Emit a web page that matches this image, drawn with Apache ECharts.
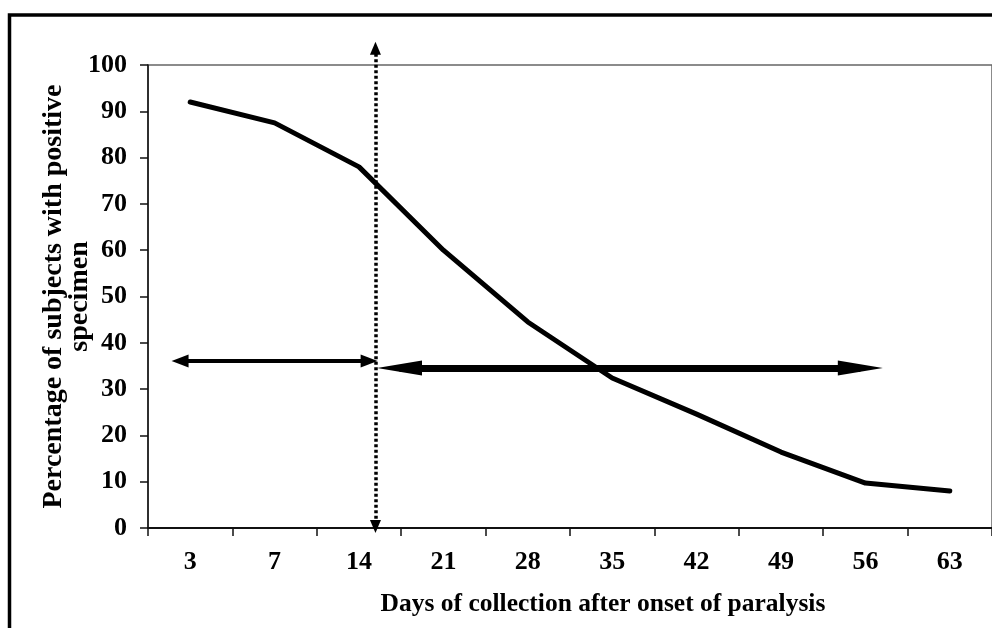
<!DOCTYPE html>
<html>
<head>
<meta charset="utf-8">
<script src="https://cdn.jsdelivr.net/npm/echarts@6/dist/echarts.min.js"></script>
<style>html,body{margin:0;padding:0;background:#fff}#c{width:992px;height:628px}</style>
</head>
<body>
<div id="c"></div>
<script>
// ---- data ----
const days = ['3', '7', '14', '21', '28', '35', '42', '49', '56', '63'];
const positivePct = [92, 87.5, 78, 60, 44.5, 32.4, 24.6, 16.4, 9.7, 8];
const yTicks = { min: 0, max: 100, interval: 10 };
// annotation positions on a hidden 0..10 band-index axis (y in percent)
const dottedLineX = [2.695, 2.695];
const dottedLineY = [103.6, 0.3];
const leftArrowX = [0.38, 2.62];
const leftArrowY = [36.07, 36.07];
const rightArrowX = [2.98, 8.44];
const rightArrowY = [34.56, 34.56];
const xTitle = 'Days of collection after onset of paralysis';
const yTitle = 'Percentage of subjects with positive\nspecimen';

const font = 'Liberation Serif, Times New Roman, serif';
const chart = echarts.init(document.getElementById('c'), null, { renderer: 'canvas' });

function seg(xs, ys) {
  return [{ coord: [xs[0], ys[0]] }, { coord: [xs[1], ys[1]] }];
}
function arrowSeries(segData, size, lineStyle) {
  return {
    type: 'line',
    xAxisIndex: 1,
    yAxisIndex: 1,
    data: [],
    clip: false,
    silent: true,
    markLine: {
      silent: true,
      animation: false,
      label: { show: false },
      emphasis: { disabled: true },
      data: [segData],
      symbol: ['triangle', 'triangle'],
      symbolSize: size,
      lineStyle: lineStyle
    }
  };
}

chart.setOption({
  animation: false,
  backgroundColor: '#fff',
  graphic: [{
    type: 'rect',
    shape: { x: 9.5, y: 15, width: 1100, height: 800 },
    style: { fill: 'none', stroke: '#000', lineWidth: 3.5 },
    silent: true
  }],
  grid: [
    { left: 148, top: 65, width: 853, height: 463, show: true, borderColor: '#666', borderWidth: 1.5, backgroundColor: 'transparent' },
    { left: 148, top: 18.7, width: 853, height: 555.6, show: false }
  ],
  xAxis: [{
    type: 'category',
    gridIndex: 0,
    data: days,
    boundaryGap: true,
    axisLine: { lineStyle: { color: '#111', width: 2 } },
    axisTick: { show: true, length: 8, lineStyle: { color: '#111', width: 1.5 } },
    axisLabel: { color: '#000', fontFamily: font, fontWeight: 'bold', fontSize: 26, margin: 21 },
    name: xTitle,
    nameLocation: 'middle',
    nameGap: 63,
    nameMoveOverlap: false,
    nameTextStyle: { color: '#000', fontFamily: font, fontWeight: 'bold', fontSize: 25.5, padding: [0, 0, 0, 66] },
    splitLine: { show: false }
  }, {
    type: 'value', gridIndex: 1, min: 0, max: 10, show: false
  }],
  yAxis: [{
    type: 'value',
    gridIndex: 0,
    min: yTicks.min, max: yTicks.max, interval: yTicks.interval,
    axisLine: { show: true, lineStyle: { color: '#111', width: 1.5 } },
    axisTick: { show: true, length: 8, lineStyle: { color: '#111', width: 1.5 } },
    axisLabel: { color: '#000', fontFamily: font, fontWeight: 'bold', fontSize: 26, margin: 21 },
    splitLine: { show: false },
    name: yTitle,
    nameLocation: 'middle',
    nameRotate: 90,
    nameGap: 55,
    nameMoveOverlap: false,
    nameTextStyle: { color: '#000', fontFamily: font, fontWeight: 'bold', fontSize: 28, lineHeight: 26, align: 'center' }
  }, {
    type: 'value', gridIndex: 1, min: -10, max: 110, show: false
  }],
  series: [
    {
      type: 'line',
      data: positivePct,
      symbol: 'none',
      lineStyle: { color: '#000', width: 5, cap: 'round', join: 'round' },
      z: 3
    },
    arrowSeries(seg(dottedLineX, dottedLineY), [11, 13], { color: '#000', width: 3.5, type: [3, 2.5], cap: 'butt' }),
    arrowSeries(seg(leftArrowX, leftArrowY), [13, 17], { color: '#000', width: 4, type: 'solid' }),
    arrowSeries(seg(rightArrowX, rightArrowY), [15, 45], { color: '#000', width: 7, type: 'solid' })
  ]
});
</script>
</body>
</html>
